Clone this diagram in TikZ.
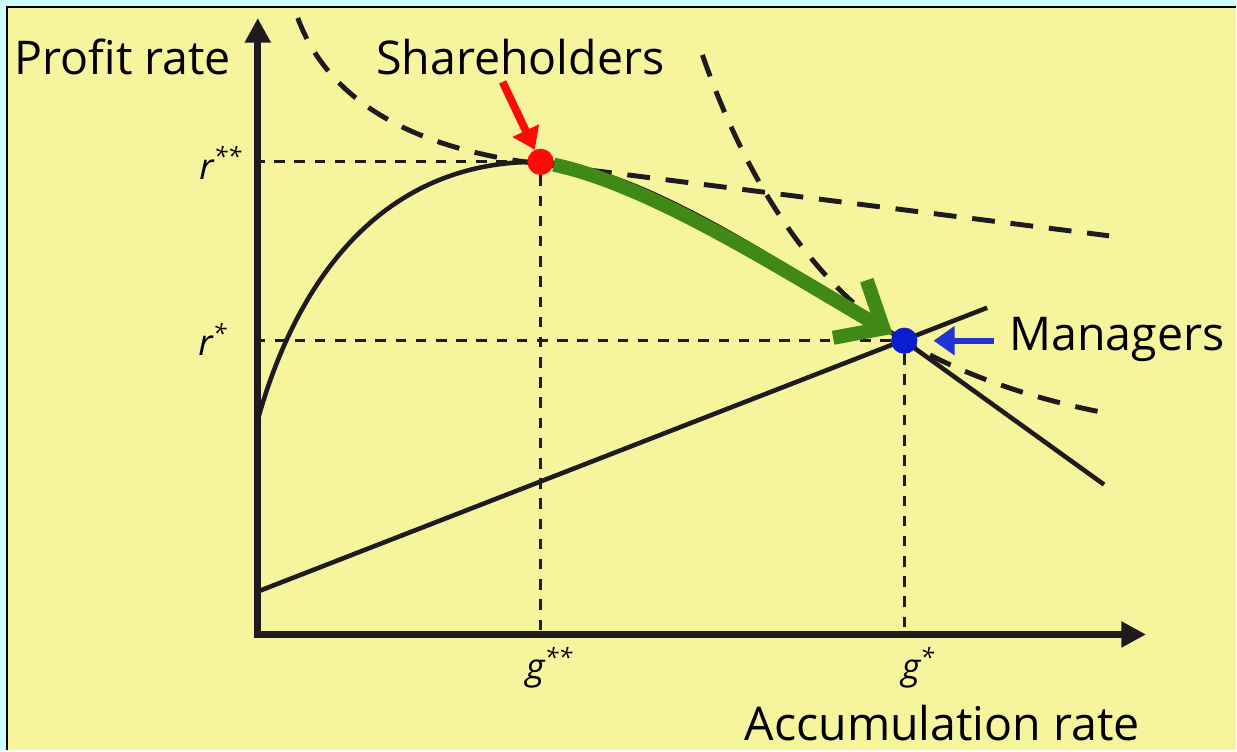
\documentclass[tikz,border=0pt]{standalone}
\usepackage{fontspec}
\setmainfont{Open Sans}
\usetikzlibrary{arrows.meta}

\definecolor{panelyellow}{RGB}{246,245,158}
\definecolor{framecyan}{RGB}{204,255,255}
\definecolor{inkblack}{RGB}{30,26,30}
\definecolor{pathgreen}{RGB}{64,136,24}
\definecolor{dotred}{RGB}{255,10,10}
\definecolor{dotblue}{RGB}{10,30,205}

\begin{document}
\begin{tikzpicture}[
    x=0.02cm, y=-0.02cm,
    axis/.style={line width=4pt, draw=inkblack, line join=miter},
    curve/.style={line width=2.6pt, draw=inkblack},
    frontier/.style={line width=2.8pt, draw=inkblack, dash pattern=on 13pt off 9pt},
    guide/.style={line width=1.6pt, draw=inkblack, dash pattern=on 6pt off 5.5pt},
    lbl/.style={font=\fontsize{26.5}{32}\selectfont, inner sep=0pt, anchor=west},
    tick/.style={font=\fontsize{20.5}{24}\selectfont\itshape, inner sep=0pt},
    dot/.style={circle, inner sep=0pt, minimum size=15pt},
    pointer/.style={line width=4.5pt, -{Triangle[length=12pt, width=16pt]}}
]
% frame
\fill[framecyan] (0,0) rectangle (1237,751);
\fill[panelyellow] (7,7) rectangle (1237,751);
\draw[line width=1.2pt] (7,751) -- (7,7) -- (1237,7);

\coordinate (O) at (258,635);
\coordinate (ytip) at (258,18);
\coordinate (xtip) at (1147,635);
\node[dot] (sh) at (541,162) {};
\node[dot] (mg) at (905,341) {};

% guide lines
\draw[guide] (sh) -- (sh -| O);
\draw[guide] (sh) -- (sh |- O);
\draw[guide] (mg) -- (mg -| O);
\draw[guide] (mg) -- (mg |- O);

% iso-profit / growth curves
\draw[frontier] (298,18) .. controls (330,105) and (420,150) .. (541,164) -- (1110,236);
\draw[frontier] (703,55) .. controls (750,190) and (820,290) .. (905,341)
    .. controls (960,374) and (1030,398) .. (1100,412);

% profit function and accumulation line
\draw[curve] (258,420) .. controls (300,270) and (390,160) .. (sh.center)
    .. controls (640,165) and (800,275) .. (mg.center) -- (1105,485);
\draw[curve] (258,592) -- (988,308);

% axes
\draw[axis, {Triangle[length=14pt, width=14pt]}-{Triangle[length=14pt, width=14pt]}] (ytip) |- (xtip);

% move from shareholders to managers
\draw[pathgreen, line width=8pt, -{Straight Barb[length=22pt, width=38pt]}]
    (sh) .. controls (650,185) and (780,268) .. (mg);

\node[dot, fill=dotred] at (sh) {};
\node[dot, fill=dotblue] at (mg) {};

\coordinate (shtail) at (503,82);
\coordinate (mgtail) at (995,341);
\draw[pointer, dotred] (shtail) -- (sh);
\draw[pointer, dotblue!90!white, line width=3.6pt, shorten >=9pt] (mgtail) -- (mg);

% labels
\node[lbl] (ylab) at (14,57) {Profit rate};
\node[lbl] (shlab) at (376,57) {Shareholders};
\node[lbl] (mglab) at (1010,340) {Managers};
\node[lbl] (xlab) at (745,724) {Accumulation rate};
\node[tick] (rss) at (221,163) {r\textsuperscript{**}};
\node[tick] (rs) at (213,340) {r\textsuperscript{*}};
\node[tick] (gss) at (550,668) {g\textsuperscript{**}};
\node[tick] (gs) at (919,668) {g\textsuperscript{*}};
\end{tikzpicture}
\end{document}
